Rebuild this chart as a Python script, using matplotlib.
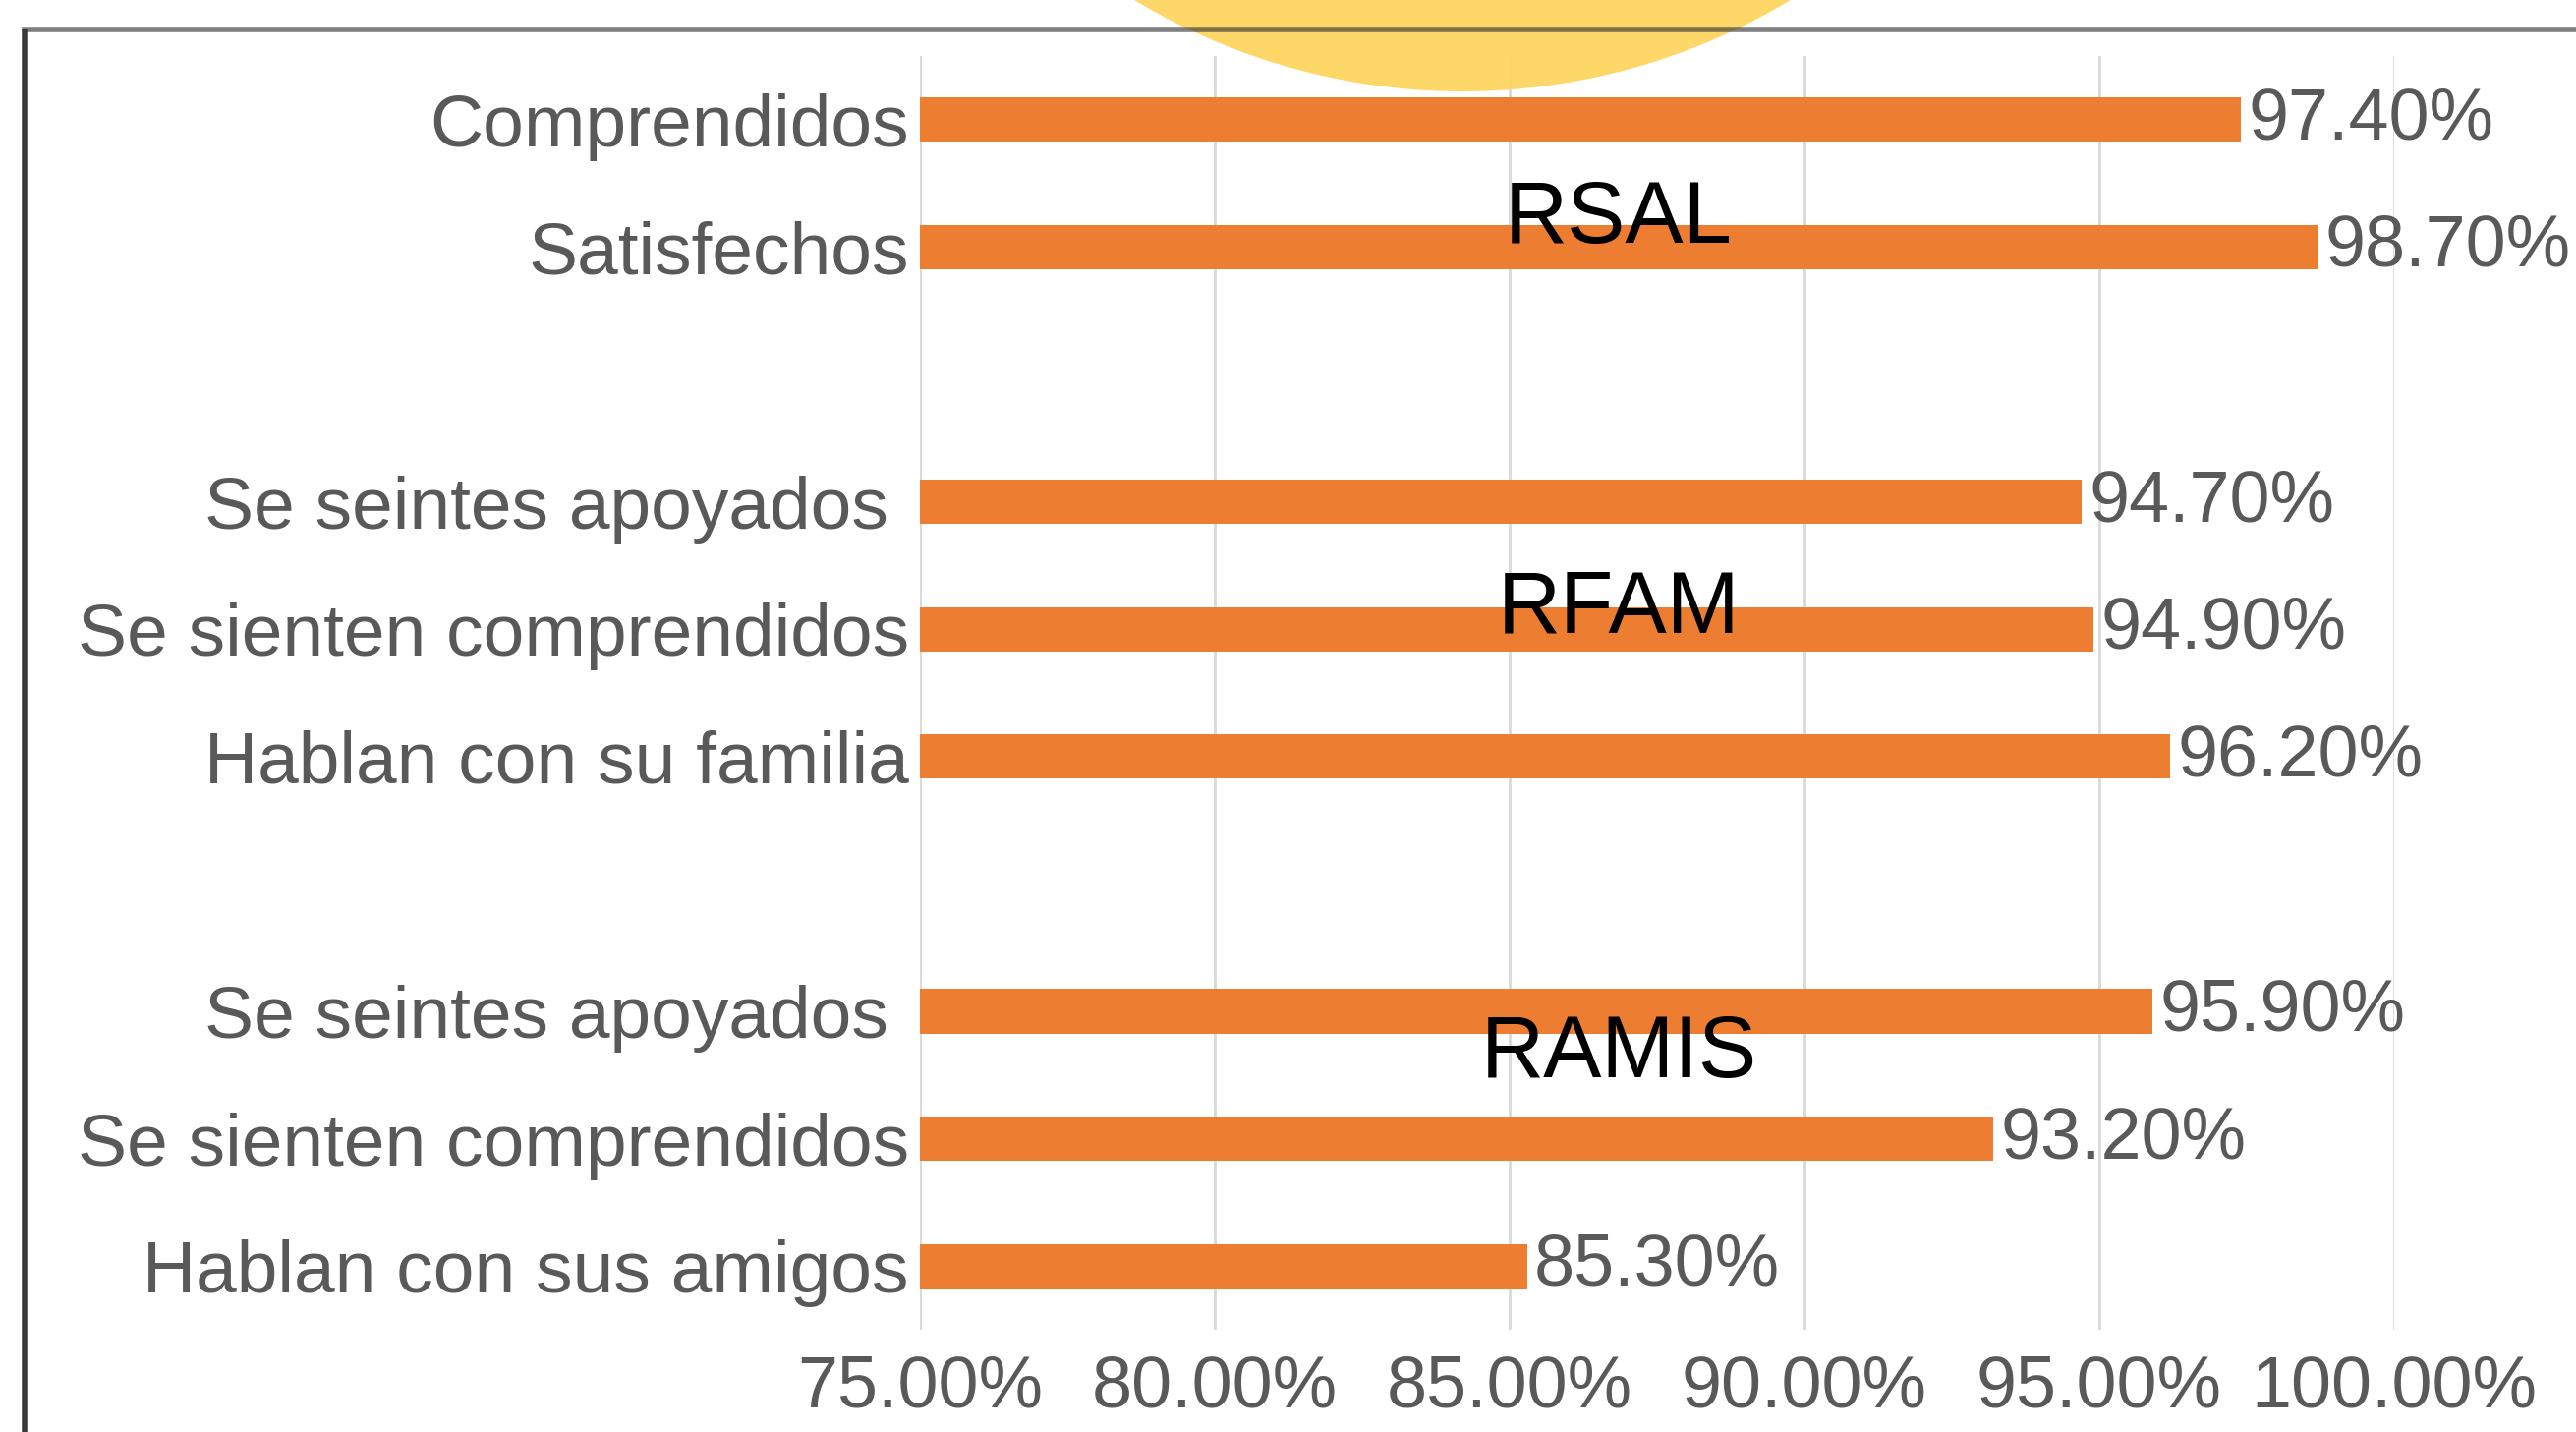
import matplotlib
matplotlib.use('Agg')
import matplotlib.pyplot as plt
from matplotlib.patches import Ellipse
from matplotlib.lines import Line2D
from matplotlib.ticker import FuncFormatter

plt.rcParams['font.family'] = ['Liberation Sans', 'DejaVu Sans']

# data, top to bottom
groups = ['RSAL', 'RFAM', 'RAMIS']
rsal_labels = ['Comprendidos', 'Satisfechos']
rsal_values = [97.4, 98.7]
rfam_labels = ['Se seintes apoyados ', 'Se sienten comprendidos', 'Hablan con su familia']
rfam_values = [94.7, 94.9, 96.2]
ramis_labels = ['Se seintes apoyados ', 'Se sienten comprendidos', 'Hablan con sus amigos']
ramis_values = [95.9, 93.2, 85.3]
x_ticks = [75, 80, 85, 90, 95, 100]

orange = '#ED7D31'
grey_txt = '#595959'

fig = plt.figure(figsize=(26.21, 14.57), dpi=100)
ax = fig.add_axes([936 / 2621, 1 - 1353 / 1457, 1500 / 2621, 1296 / 1457])

labels, values, pos, group_mid = [], [], [], []
slot = 0
for labs, vals in [(rsal_labels, rsal_values), (rfam_labels, rfam_values), (ramis_labels, ramis_values)]:
    start = slot
    for l, v in zip(labs, vals):
        labels.append(l)
        values.append(v)
        pos.append(slot)
        slot += 1
    group_mid.append((start + slot - 1) / 2)
    slot += 1  # empty row between groups

ax.barh(pos, values, height=0.35, color=orange, zorder=2)
for p, v in zip(pos, values):
    ax.text(v + 0.12, p, '%.2f%%' % v, va='center', ha='left', fontsize=53,
            color=grey_txt, clip_on=False)

ax.set_xlim(75, 100)
ax.set_ylim(slot - 1 - 0.5, -0.5)
ax.set_xticks(x_ticks)
ax.xaxis.set_major_formatter(FuncFormatter(lambda x, _: '%.2f%%' % x))
ax.set_yticks(pos)
ax.set_yticklabels(labels)
ax.tick_params(axis='both', length=0, labelsize=53, labelcolor=grey_txt)
ax.tick_params(axis='y', pad=8, labelsize=54)
ax.tick_params(axis='x', pad=18)
ax.grid(axis='x', color='#D9D9D9', linewidth=2, zorder=0)
ax.set_axisbelow(True)
for s in ax.spines.values():
    s.set_visible(False)

# group names laid over the bars
offsets = [0.29, -0.15, -0.66]
for g, m, o in zip(groups, group_mid, offsets):
    ax.text(86.85, m + o, g, ha='center', va='center', fontsize=64, color='black', zorder=5)

# frame of the surrounding slide (cut off at right/bottom)
fig.add_artist(Line2D([25 / 2621, 25 / 2621], [0, 1 - 30 / 1457], transform=fig.transFigure,
                      color='#3a3a3a', linewidth=4, solid_capstyle='butt'))
# yellow bubble from the slide above, partly visible
circ = Ellipse((1488 / 2621, 1 + 553 / 1457), 2 * 646 / 2621, 2 * 646 / 1457,
               transform=fig.transFigure, facecolor='#FDD55C', edgecolor='none', alpha=0.93, zorder=10)
fig.add_artist(circ)
fig.add_artist(Line2D([25 / 2621, 1], [1 - 30 / 1457, 1 - 30 / 1457], transform=fig.transFigure,
                      color='#3a3a3a', linewidth=4, alpha=0.65, zorder=11))
fig.text(1620 / 2621, 1 - 12 / 1457, '12.50%', ha='center', va='bottom', fontsize=40,
         color='#9a8a55', zorder=12)

fig.savefig('out.png', dpi=100)
